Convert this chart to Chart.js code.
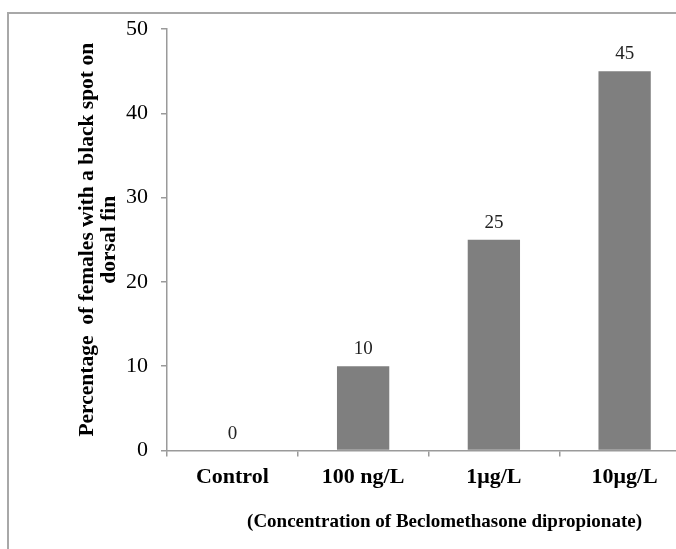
<!DOCTYPE html>
<html lang="en">
<head>
<meta charset="UTF-8">
<title>Black spot on dorsal fin</title>
<script src="https://cdn.jsdelivr.net/npm/chart.js"></script>
<style>
  html, body { margin: 0; padding: 0; background: #fff; overflow: hidden; }
  #wrap { position: relative; width: 676px; height: 549px; overflow: hidden; }
  /* outer frame of the figure, cut off on the right and at the bottom */
  #frame { position: absolute; left: 7px; top: 12px; width: 720px; height: 600px;
           border-top: 2px solid #a8a8a8; border-left: 2px solid #a8a8a8; }
  #chart { position: absolute; left: 0; top: 0; }
</style>
</head>
<body>
<div id="wrap">
  <div id="frame"></div>
  <canvas id="chart" width="700" height="549"></canvas>
</div>
<script>
// data
const categories = ['Control', '100 ng/L', '1μg/L', '10μg/L'];
const percentages = [0, 10, 25, 45];
const yTicks = [0, 10, 20, 30, 40, 50];
const yTitle = ['Percentage  of females with a black spot on', 'dorsal fin'];
const xTitle = '(Concentration of Beclomethasone dipropionate)';

const serif = '"Liberation Serif", "Times New Roman", serif';
const axisGray = '#9a9a9a';

// numbers above the bars
const valueLabels = {
    id: 'valueLabels',
    afterDatasetsDraw(chart) {
        const ctx = chart.ctx;
        const meta = chart.getDatasetMeta(0);
        ctx.save();
        ctx.font = '19px ' + serif;
        ctx.fillStyle = '#222';
        ctx.textAlign = 'center';
        ctx.textBaseline = 'alphabetic';
        meta.data.forEach((bar, i) => {
            ctx.fillText(String(percentages[i]), bar.x, bar.y - 12);
        });
        ctx.restore();
    }
};

// x axis title sits a bit right of the plot centre
const xAxisNote = {
    id: 'xAxisNote',
    afterDraw(chart) {
        const ctx = chart.ctx;
        const x = chart.scales.x;
        ctx.save();
        ctx.font = 'bold 19px ' + serif;
        ctx.fillStyle = '#000';
        ctx.textAlign = 'right';
        ctx.textBaseline = 'middle';
        ctx.fillText(xTitle, x.right - 48, 522);
        ctx.restore();
    }
};

const ctx = document.getElementById('chart').getContext('2d');
new Chart(ctx, {
    type: 'bar',
    data: {
        labels: categories,
        datasets: [{
            data: percentages,
            backgroundColor: '#7f7f7f',
            borderWidth: 0,
            categoryPercentage: 1,
            barPercentage: 0.4
        }]
    },
    options: {
        responsive: false,
        animation: false,
        devicePixelRatio: 1,
        layout: { padding: { top: 29, right: 10, left: 0, bottom: 0 } },
        plugins: {
            legend: { display: false },
            tooltip: { enabled: false }
        },
        scales: {
            x: {
                afterFit: s => { s.height = 98.5; },
                grid: { drawOnChartArea: false, tickLength: 6, color: axisGray, lineWidth: 1.5, offset: true },
                border: { color: axisGray, width: 1.5 },
                ticks: {
                    color: '#000',
                    padding: 8,
                    maxRotation: 0,
                    font: { family: serif, size: 22, weight: 'bold' }
                }
            },
            y: {
                min: 0,
                max: 50,
                afterFit: s => { s.width = 167; },
                afterBuildTicks: s => { s.ticks = yTicks.map(v => ({ value: v })); },
                grid: { drawOnChartArea: false, tickLength: 6, color: axisGray, lineWidth: 1.5 },
                border: { color: axisGray, width: 1.5 },
                ticks: {
                    color: '#000',
                    padding: 13,
                    font: { family: serif, size: 22 }
                },
                title: {
                    display: true,
                    text: yTitle,
                    color: '#000',
                    padding: { top: 77, bottom: 0 },
                    font: { family: serif, size: 21.5, weight: 'bold', lineHeight: 1 }
                }
            }
        }
    },
    plugins: [valueLabels, xAxisNote]
});
</script>
</body>
</html>
